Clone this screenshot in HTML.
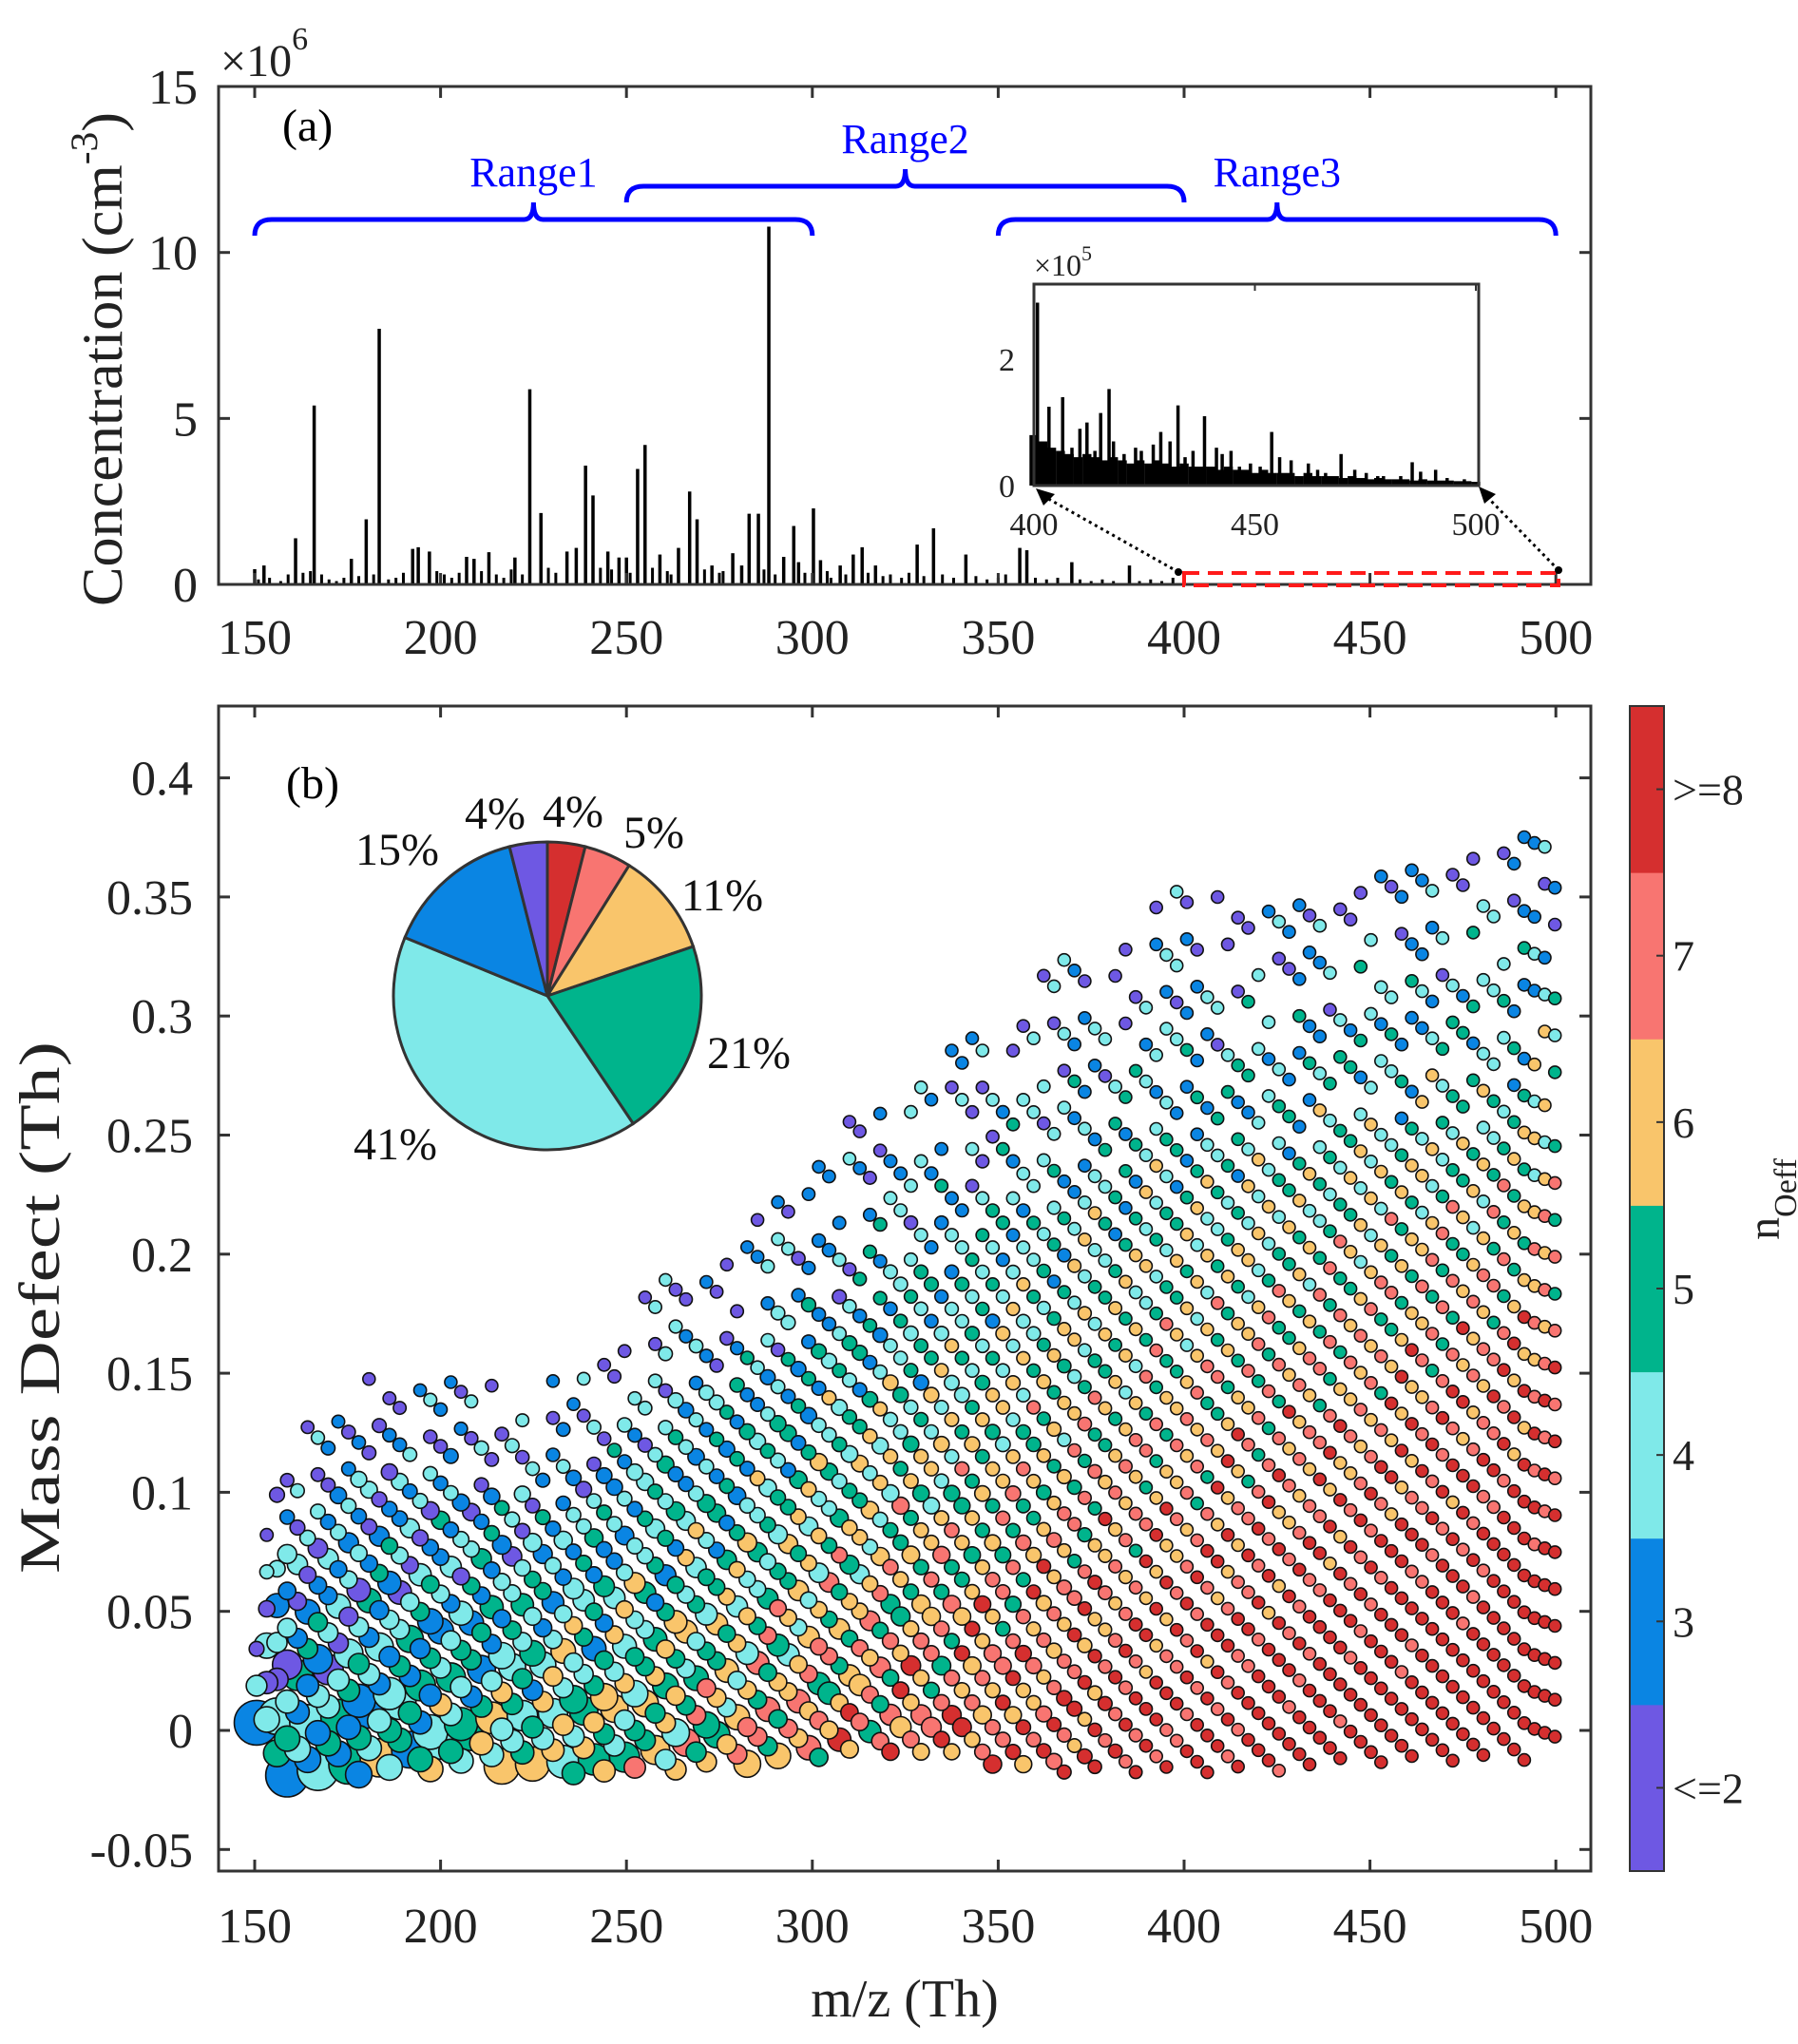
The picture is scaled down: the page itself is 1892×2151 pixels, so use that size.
<!DOCTYPE html>
<html><head><meta charset="utf-8"><style>
html,body{margin:0;padding:0;background:#fff;}
svg{display:block;font-family:"Liberation Serif",serif;}
</style></head><body>
<svg id="fig" width="1892" height="2151" viewBox="0 0 1892 2151" xmlns="http://www.w3.org/2000/svg">
<g id="panelA"></g>
<g id="panelB"></g>
</svg>
<script>
// ---------- Panel (a) data ----------
const peakMz   = [150,152.5,161,166,176,180,183.5,192.5,194,197,207,209,213,220,224,227,234,236.5,239,241,245,248,250,253,255,259,264,267,269,273,278.6,281,283,285.5,288.3,292.3,295,296.3,300.3,302.2,307.5,311,313.4,317,328.2,332.6,341.3,355.8,357.7,369.8,385.3];
const peakConc = [0.46,0.57,1.39,5.39,0.77,1.96,7.7,1.07,1.12,0.99,0.83,0.77,0.97,0.81,5.88,2.15,0.99,1.1,3.58,2.68,0.99,0.81,0.81,3.48,4.2,0.9,1.1,2.8,1.96,0.57,0.94,0.57,2.13,2.13,10.78,0.83,1.76,0.67,2.29,0.73,0.57,0.9,1.12,0.57,1.2,1.69,0.9,1.1,1.03,0.67,0.57];
const smallMz   = [151,154,157,159,163,165,168,170,172,174,178,182,186,188,190,199,201,203,205,211,215,217,219,222,229,231,243,246,251,257,261,262,271,275,276,287,290,298,304,305,309,315,319,321,324,326,330,335,338,344,347,350,352,360,363,366,372,375,378,381,388,391,394,397];
const smallConc = [0.15,0.2,0.1,0.3,0.35,0.4,0.3,0.15,0.1,0.2,0.25,0.3,0.15,0.2,0.35,0.4,0.3,0.2,0.35,0.4,0.3,0.2,0.45,0.3,0.5,0.35,0.5,0.45,0.35,0.5,0.4,0.3,0.45,0.35,0.4,0.45,0.3,0.35,0.4,0.2,0.3,0.35,0.25,0.3,0.2,0.35,0.25,0.3,0.2,0.25,0.15,0.2,0.3,0.2,0.15,0.2,0.15,0.1,0.15,0.1,0.1,0.15,0.1,0.2];
const aYTicks = [0,5,10,15];
const aXTicks = [150,200,250,300,350,400,450,500];
// inset (x1e5)
const insetMz   = [400.8,403.4,406.5,408.6,410.4,412,413.8,415.1,417,418,420.4,423,424.3,427,428.7,430.8,432.6,434.2,436,438.6,441.3,442.6,444.6,446.5,449,451.2,453.8,455.6,458.2,462.1,464.2,466,469.5,472.6,475.2,477.8,479.1,483,485.6,487.5,490.9,493.5,497.4];
const insetConc = [2.9,1.25,1.4,0.6,0.9,1.0,0.55,1.15,1.53,0.7,0.5,0.6,0.55,0.65,0.85,0.7,1.27,0.45,0.55,1.1,0.6,0.5,0.55,0.3,0.35,0.3,0.85,0.45,0.4,0.35,0.25,0.2,0.5,0.25,0.2,0.15,0.15,0.15,0.37,0.22,0.25,0.12,0.1];
const insetBase = [0.8,0.7,0.6,0.55,0.5,0.45,0.5,0.45,0.4,0.45,0.4,0.35,0.4,0.35,0.4,0.35,0.3,0.35,0.3,0.3,0.3,0.25,0.3,0.25,0.25,0.2,0.25,0.2,0.2,0.2,0.15,0.2,0.15,0.15,0.15,0.12,0.15,0.12,0.1,0.12,0.1,0.1,0.1,0.08,0.1,0.08,0.08,0.08,0.07,0.07,0.06];
const insetBaseStart = 400, insetBaseStep = 2;
// ---------- Panel (b) data ----------
const upperMz  = [150,155.9,184.7,217,236.5,249.5,261.9,278,297,317.7,352.7,394.6,417.8,467.4,497.5,500];
const upperMD  = [0.04,0.124,0.155,0.145,0.150,0.170,0.202,0.197,0.244,0.265,0.307,0.353,0.354,0.370,0.380,0.37];
const lowerMz  = [150,157.4,180.7,211,250.5,284.5,320,360.5,410,466,492.3,500];
const lowerMD  = [0.005,-0.021,-0.02,-0.015,-0.02,-0.015,-0.009,-0.019,-0.018,-0.014,-0.013,-0.005];
const bYTicks = [-0.05,0,0.05,0.1,0.15,0.2,0.25,0.3,0.35,0.4];
const bYTickLabels = ["-0.05","0","0.05","0.1","0.15","0.2","0.25","0.3","0.35","0.4"];
const cbLabels = ["<=2","3","4","5","6","7",">=8"];
const cbColors = ["#6e58e3","#0a85e3","#7fe9e9","#00b48c","#f9c56b","#f87571","#d52f2f"];
const pieValues = [4,5,11,21,41,15,4];
const pieColorIdx = [6,5,4,3,2,1,0];
const pieLabels = ["4%","5%","11%","21%","41%","15%","4%"];

const NS="http://www.w3.org/2000/svg";
function mk(parent,tag,attrs,text){const e=document.createElementNS(NS,tag);for(const k in attrs)e.setAttribute(k,attrs[k]);if(text!==undefined)e.textContent=text;parent.appendChild(e);return e;}

// ---------- Panel A ----------
const A=document.getElementById('panelA');
const axL=230, axR=1674;
const xA=m=>268+(m-150)*3.912;
const yA=v=>615-v*34.93;
for(let i=0;i<smallMz.length;i++){
  const b=mk(A,'line',{x1:xA(smallMz[i]),x2:xA(smallMz[i]),y1:yA(0),y2:yA(smallConc[i]),stroke:'#000','stroke-width':3});
  
  
}
for(let i=0;i<peakMz.length;i++){
  const b=mk(A,'line',{x1:xA(peakMz[i]),x2:xA(peakMz[i]),y1:yA(0),y2:yA(peakConc[i]),stroke:'#000','stroke-width':3.5});
  
  
}
mk(A,'rect',{x:axL,y:91,width:axR-axL,height:524,fill:'none',stroke:'#333','stroke-width':3,});
aXTicks.forEach(t=>{
  mk(A,'line',{x1:xA(t),x2:xA(t),y1:615,y2:603,stroke:'#333','stroke-width':3});
  mk(A,'line',{x1:xA(t),x2:xA(t),y1:91,y2:103,stroke:'#333','stroke-width':3});
  mk(A,'text',{x:xA(t),y:688,'font-size':52,'text-anchor':'middle',fill:'#222',},t);
});
aYTicks.forEach(t=>{
  mk(A,'line',{x1:axL,x2:axL+12,y1:yA(t),y2:yA(t),stroke:'#333','stroke-width':3});
  mk(A,'line',{x1:axR,x2:axR-12,y1:yA(t),y2:yA(t),stroke:'#333','stroke-width':3});
  mk(A,'text',{x:208,y:yA(t)+18,'font-size':52,'text-anchor':'end',fill:'#222',},t);
});
const ex=mk(A,'text',{x:232,y:80,'font-size':48,fill:'#222',},'×10');
mk(ex,'tspan',{dy:-28,'font-size':34},'6');
mk(A,'text',{x:297,y:148,'font-size':48,fill:'#000',},'(a)');
const yl=mk(A,'text',{transform:'translate(128,378) rotate(-90)','font-size':60,'text-anchor':'middle',fill:'#222',textLength:520,lengthAdjust:'spacingAndGlyphs'},'Concentration (cm');
mk(yl,'tspan',{dy:-26,'font-size':40},'-3');
mk(yl,'tspan',{dy:26},')');
function brace(m1,m2,yLine,name,label,ly){
  const x1=xA(m1),x2=xA(m2),xm=(x1+x2)/2;
  const d=`M${x1},${yLine+17} Q${x1},${yLine} ${x1+18},${yLine} L${xm-10},${yLine} Q${xm},${yLine} ${xm},${yLine-18} Q${xm},${yLine} ${xm+10},${yLine} L${x2-18},${yLine} Q${x2},${yLine} ${x2},${yLine+17}`;
  mk(A,'path',{d,fill:'none',stroke:'#0000ff','stroke-width':5,});
  mk(A,'text',{x:xm,y:ly,'font-size':44,'text-anchor':'middle',fill:'#0000ff',},label);
}
brace(150,300,231,'range1','Range1',196);
brace(250,400,196,'range2','Range2',161);
brace(350,500,231,'range3','Range3',196);
mk(A,'rect',{x:1246,y:603,width:394,height:13,fill:'none',stroke:'#ff1a1a','stroke-width':4,'stroke-dasharray':'16,9',});
mk(A,'line',{x1:1240,y1:602,x2:1098,y2:522,stroke:'#000','stroke-width':3,'stroke-dasharray':'3,4',});
mk(A,'polygon',{points:'1090,514 1110,520 1098,532',fill:'#000'});
mk(A,'line',{x1:1640,y1:600,x2:1562,y2:520,stroke:'#000','stroke-width':3,'stroke-dasharray':'3,4',});
mk(A,'polygon',{points:'1556,512 1574,520 1562,530',fill:'#000'});
mk(A,'circle',{cx:1640,cy:600,r:4,fill:'#000'});
mk(A,'circle',{cx:1240,cy:602,r:4,fill:'#000'});
const I=mk(A,'g',{});
const xI=m=>1088+(m-400)*4.65;
const yI=v=>511-v*66.4;
for(let i=0;i<insetBase.length;i++){
  const m=insetBaseStart+i*insetBaseStep;
  const r=mk(I,'rect',{x:xI(m)-4.7,y:yI(insetBase[i]),width:9.4,height:yI(0)-yI(insetBase[i]),fill:'#000'});
  
  
}
for(let i=0;i<insetMz.length;i++){
  const b=mk(I,'line',{x1:xI(insetMz[i]),x2:xI(insetMz[i]),y1:yI(0),y2:yI(insetConc[i]),stroke:'#000','stroke-width':3.5});
  
  
}
mk(I,'rect',{x:1088,y:299,width:468,height:212,fill:'none',stroke:'#333','stroke-width':3});
[400,450,500].forEach(t=>{
  mk(I,'line',{x1:xI(t),x2:xI(t),y1:299,y2:306,stroke:'#333','stroke-width':2});
  mk(I,'text',{x:xI(t),y:563,'font-size':34,'text-anchor':'middle',fill:'#222',},t);
});
[0,2].forEach(t=>{
  mk(I,'text',{x:1068,y:yI(t)+12,'font-size':34,'text-anchor':'end',fill:'#222',},t);
});
const iex=mk(I,'text',{x:1088,y:290,'font-size':32,fill:'#222',},'×10');
mk(iex,'tspan',{dy:-16,'font-size':22},'5');

// ---------- Panel B ----------
const B=document.getElementById('panelB');
const bL=230,bR=1674,bT=743,bB=1969;
const xB=m=>268+(m-150)*3.912;
const yB=v=>1821-v*2506;
function interp(xs,ys,x){if(x<=xs[0])return ys[0];for(let i=1;i<xs.length;i++){if(x<=xs[i]){const f=(x-xs[i-1])/(xs[i]-xs[i-1]);return ys[i-1]+f*(ys[i]-ys[i-1]);}}return ys[ys.length-1];}
const dotG=mk(B,'g',{});
const pts=[];
let col=0;
const stepD=0.0155;
for(let m=150.5;m<=500;m+=2.75,col++){
  const top=interp(upperMz,upperMD,m), bot=interp(lowerMz,lowerMD,m);
  const off=((((-col*0.29)%1)+1)%1)*stepD;
  const t=(m-150)/350;
  let k=0;
  for(let d=bot+off; d<=top+0.0001; d+=stepD,k++){
    const r=Math.min(1,Math.max(0,(top-bot)>0?(d-bot)/(top-bot):0));
    if(r>0.85 && ((col+k)%3)===1) continue;
    if(r>0.7 && ((col*5+k)%4)===0) continue;
    const jit=(((col*7+k*3)%5)-2)*0.6;
    let v=Math.pow(1-r,0.9)*(1.4+6.2*t)+0.4+jit;
    v=Math.max(0,Math.min(6,Math.round(v)));
    if(!isFinite(v)) v=2;
    const big=Math.max(0,1-t*1.45)*Math.pow(1-r,1.5);
    const rad=6.5+17*big*(((col+k)%3===0)?1:0.5);
    pts.push({m,d,v,rad});
  }
}
pts.sort((a,b)=>b.rad-a.rad);
pts.forEach(p=>{
  const c=mk(dotG,'circle',{cx:xB(p.m).toFixed(1),cy:yB(p.d).toFixed(1),r:p.rad.toFixed(1),fill:cbColors[p.v],stroke:'#111','stroke-width':1.6});
  
  
});
mk(B,'rect',{x:bL,y:bT,width:bR-bL,height:bB-bT,fill:'none',stroke:'#333','stroke-width':3,});
aXTicks.forEach(t=>{
  mk(B,'line',{x1:xB(t),x2:xB(t),y1:bB,y2:bB-12,stroke:'#333','stroke-width':3});
  mk(B,'line',{x1:xB(t),x2:xB(t),y1:bT,y2:bT+12,stroke:'#333','stroke-width':3});
  mk(B,'text',{x:xB(t),y:2044,'font-size':52,'text-anchor':'middle',fill:'#222',},t);
});
bYTicks.forEach((t,i)=>{
  mk(B,'line',{x1:bL,x2:bL+12,y1:yB(t),y2:yB(t),stroke:'#333','stroke-width':3});
  mk(B,'line',{x1:bR,x2:bR-12,y1:yB(t),y2:yB(t),stroke:'#333','stroke-width':3});
  mk(B,'text',{x:203,y:yB(t)+18,'font-size':52,'text-anchor':'end',fill:'#222',},bYTickLabels[i]);
});
mk(B,'text',{x:301,y:840,'font-size':48,fill:'#000',},'(b)');
mk(B,'text',{x:952,y:2122,'font-size':56,'text-anchor':'middle',fill:'#222',},'m/z (Th)');
mk(B,'text',{transform:'translate(62,1376) rotate(-90)','font-size':60,'text-anchor':'middle',fill:'#222',textLength:560,lengthAdjust:'spacingAndGlyphs'},'Mass Defect (Th)');
const cbX=1715,cbW=36,segH=(bB-bT)/7;
for(let i=0;i<7;i++){
  const y=bB-(i+1)*segH;
  const s=mk(B,'rect',{x:cbX,y:y,width:cbW,height:segH+0.5,fill:cbColors[i]});
  
  
  mk(B,'line',{x1:cbX+cbW,x2:cbX+cbW-8,y1:y+segH/2,y2:y+segH/2,stroke:'#333','stroke-width':2});
  mk(B,'text',{x:1760,y:y+segH/2+16,'font-size':46,fill:'#222',},cbLabels[i]);
}
mk(B,'rect',{x:cbX,y:bT,width:cbW,height:bB-bT,fill:'none',stroke:'#333','stroke-width':2,});
const cl=mk(B,'text',{transform:'translate(1872,1262) rotate(-90)','font-size':48,'text-anchor':'middle',fill:'#222',},'n');
mk(cl,'tspan',{dy:18,'font-size':34},'Oeff');
const P=mk(B,'g',{});
const cx=576,cy=1048,R=162;
const tot=pieValues.reduce((a,b)=>a+b,0);
let ang=0;
const labelPos=[[603,870],[688,892],[760,958],[788,1124],[416,1220],[418,910],[521,872]];
pieValues.forEach((v,i)=>{
  const a0=ang, a1=ang+v/tot*2*Math.PI; ang=a1;
  const p0=[cx+R*Math.sin(a0),cy-R*Math.cos(a0)], p1=[cx+R*Math.sin(a1),cy-R*Math.cos(a1)];
  const large=(a1-a0)>Math.PI?1:0;
  const s=mk(P,'path',{d:`M${cx},${cy} L${p0[0]},${p0[1]} A${R},${R} 0 ${large} 1 ${p1[0]},${p1[1]} Z`,fill:cbColors[pieColorIdx[i]],stroke:'#333','stroke-width':3});
  
  
  const t=mk(P,'text',{x:labelPos[i][0],y:labelPos[i][1],'font-size':48,'text-anchor':'middle',fill:'#111'},pieLabels[i]);
  
  
});
</script>
</body></html>
